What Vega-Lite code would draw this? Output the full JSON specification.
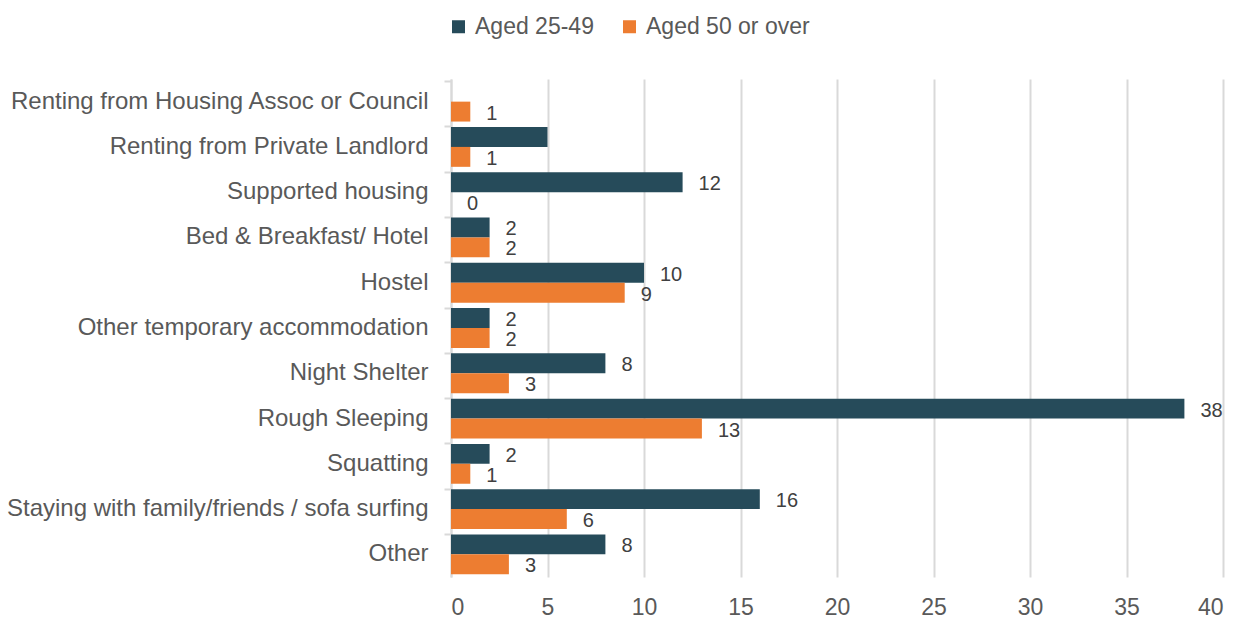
{
  "$schema": "https://vega.github.io/schema/vega-lite/v6.json",
  "width": 772,
  "height": 498,
  "autosize": {"type": "none"},
  "padding": {"left": 451, "top": 79, "right": 19, "bottom": 42},
  "background": "white",
  "config": {
    "font": "Liberation Sans",
    "view": {"stroke": null}
  },
  "data": {
    "values": [
      {"category": "Renting from Housing Assoc or Council", "order": 1, "series": "Aged 25-49", "value": null, "label": null},
      {"category": "Renting from Housing Assoc or Council", "order": 1, "series": "Aged 50 or over", "value": 1, "label": "1"},
      {"category": "Renting from Private Landlord", "order": 2, "series": "Aged 25-49", "value": 5, "label": null},
      {"category": "Renting from Private Landlord", "order": 2, "series": "Aged 50 or over", "value": 1, "label": "1"},
      {"category": "Supported housing", "order": 3, "series": "Aged 25-49", "value": 12, "label": "12"},
      {"category": "Supported housing", "order": 3, "series": "Aged 50 or over", "value": 0, "label": "0"},
      {"category": "Bed & Breakfast/ Hotel", "order": 4, "series": "Aged 25-49", "value": 2, "label": "2"},
      {"category": "Bed & Breakfast/ Hotel", "order": 4, "series": "Aged 50 or over", "value": 2, "label": "2"},
      {"category": "Hostel", "order": 5, "series": "Aged 25-49", "value": 10, "label": "10"},
      {"category": "Hostel", "order": 5, "series": "Aged 50 or over", "value": 9, "label": "9"},
      {"category": "Other temporary accommodation", "order": 6, "series": "Aged 25-49", "value": 2, "label": "2"},
      {"category": "Other temporary accommodation", "order": 6, "series": "Aged 50 or over", "value": 2, "label": "2"},
      {"category": "Night Shelter", "order": 7, "series": "Aged 25-49", "value": 8, "label": "8"},
      {"category": "Night Shelter", "order": 7, "series": "Aged 50 or over", "value": 3, "label": "3"},
      {"category": "Rough Sleeping", "order": 8, "series": "Aged 25-49", "value": 38, "label": "38"},
      {"category": "Rough Sleeping", "order": 8, "series": "Aged 50 or over", "value": 13, "label": "13"},
      {"category": "Squatting", "order": 9, "series": "Aged 25-49", "value": 2, "label": "2"},
      {"category": "Squatting", "order": 9, "series": "Aged 50 or over", "value": 1, "label": "1"},
      {"category": "Staying with family/friends / sofa surfing", "order": 10, "series": "Aged 25-49", "value": 16, "label": "16"},
      {"category": "Staying with family/friends / sofa surfing", "order": 10, "series": "Aged 50 or over", "value": 6, "label": "6"},
      {"category": "Other", "order": 11, "series": "Aged 25-49", "value": 8, "label": "8"},
      {"category": "Other", "order": 11, "series": "Aged 50 or over", "value": 3, "label": "3"}
    ]
  },
  "transform": [{"filter": "datum.value != null"}],
  "encoding": {
    "y": {
      "field": "category",
      "type": "nominal",
      "sort": {"field": "order", "op": "min", "order": "ascending"},
      "scale": {"paddingInner": 0.12, "paddingOuter": 0.06},
      "axis": {
        "title": null,
        "labelFontSize": 24,
        "labelColor": "#595959",
        "labelPadding": 16,
        "tickSize": 7,
        "tickColor": "#d9d9d9",
        "tickWidth": 2,
        "bandPosition": 0,
        "domainColor": "#d9d9d9",
        "domainWidth": 2,
        "labelLimit": 600
      }
    },
    "yOffset": {
      "field": "series",
      "type": "nominal",
      "sort": ["Aged 25-49", "Aged 50 or over"]
    },
    "x": {
      "field": "value",
      "type": "quantitative",
      "scale": {"domain": [0, 40], "nice": false},
      "axis": {
        "title": null,
        "values": [0, 5, 10, 15, 20, 25, 30, 35, 40],
        "labelFontSize": 23,
        "labelColor": "#595959",
        "labelPadding": 19,
        "ticks": false,
        "domain": false,
        "grid": true,
        "gridColor": "#d9d9d9",
        "gridWidth": 2
      }
    }
  },
  "layer": [
    {
      "mark": {"type": "bar"},
      "encoding": {
        "color": {
          "field": "series",
          "type": "nominal",
          "scale": {"domain": ["Aged 25-49", "Aged 50 or over"], "range": ["#264b5a", "#ed7d31"]},
          "legend": {
            "title": null,
            "orient": "none",
            "direction": "horizontal",
            "legendX": -4,
            "legendY": -64,
            "symbolType": "square",
            "symbolSize": 169,
            "symbolStrokeWidth": 0,
            "symbolOpacity": 1,
            "labelFontSize": 23,
            "labelColor": "#595959",
            "labelOffset": 5,
            "labelLimit": 400,
            "columnPadding": 24
          }
        }
      }
    },
    {
      "transform": [{"filter": "datum.label != null"}],
      "mark": {"type": "text", "align": "left", "baseline": "middle", "dx": 16, "dy": 2, "fontSize": 20, "color": "#404040"},
      "encoding": {
        "text": {"field": "label", "type": "nominal"}
      }
    }
  ]
}
